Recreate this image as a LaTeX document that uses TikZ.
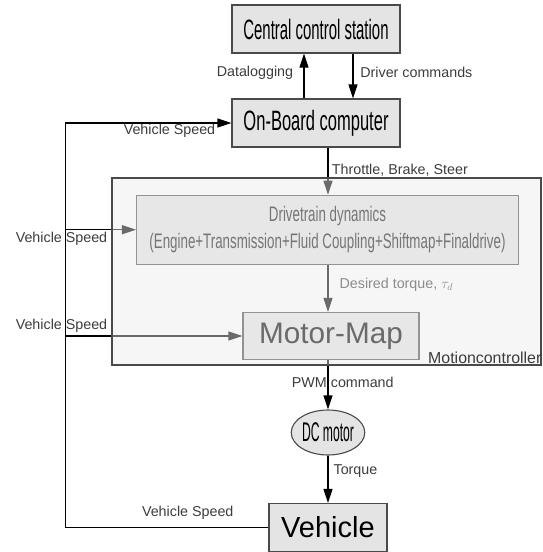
\documentclass[tikz,border=0pt]{standalone}
\usepackage{fontspec}
\setmainfont{Liberation Sans}
\usetikzlibrary{arrows.meta}
\usetikzlibrary{shapes.geometric}
\definecolor{boxgray}{HTML}{E4E4E4}
\definecolor{edgegray}{HTML}{4A4A4A}
\definecolor{labelgray}{HTML}{3C3C3C}
\definecolor{mcgray}{HTML}{ECECEC}
\definecolor{dttext}{HTML}{141414}
\newcommand{\squeeze}[2]{\scalebox{#1}[1]{#2}}

\begin{document}
\begin{tikzpicture}[x=1pt, y=-1pt,
  block/.style={draw=edgegray, fill=boxgray, line width=1.1pt, inner sep=0pt,
    minimum width=168pt, minimum height=48pt, font=\fontsize{28}{30}\selectfont},
  inblock/.style={draw=edgegray, fill=boxgray, line width=1.1pt, inner sep=0pt},
  sig/.style={-{Triangle[length=14pt, width=9pt]}, line width=1.1pt},
  lbl/.style={text=labelgray, font=\fontsize{14.3}{17}\selectfont}]
\useasboundingbox (0,0) rectangle (543,552);

\node[block] (ccs) at (316,29) {\squeeze{0.533}{Central control station}};
\node[block] (obc) at (316,123) {\squeeze{0.59}{On-Board computer}};
\node[inblock, minimum width=382pt, minimum height=69pt, text=dttext, align=center,
  font=\fontsize{21}{27}\selectfont] (dtd) at (327.5,229.7)
  {\squeeze{0.635}{Drivetrain dynamics}\\\squeeze{0.635}{(Engine+Transmission+Fluid Coupling+Shiftmap+Finaldrive)}};
\node[inblock, minimum width=176pt, minimum height=47pt,
  font=\fontsize{29.7}{32}\selectfont] (mmap) at (331,336) {Motor-Map};
\node[ellipse, inblock, minimum width=72pt, minimum height=45pt,
  font=\fontsize{27}{29}\selectfont] (dcm) at (328,432.5) {\squeeze{0.45}{DC motor}};
\node[block, minimum width=118pt, font=\fontsize{29}{32}\selectfont] (veh) at (328,527.5) {Vehicle};

\coordinate (dl) at (304,0);
\coordinate (dc) at (353,0);
\coordinate (ax) at (328,0);
\coordinate (fb) at (65.7,0);
\coordinate (dtin) at (dtd.west -| fb);
\coordinate (mmin) at (mmap.west -| fb);

\draw[sig] (obc.north -| dl) -- node[lbl, pos=0.57, left=7pt] (dltxt) {Datalogging} (ccs.south -| dl);
\draw[sig] (ccs.south -| dc) -- node[lbl, pos=0.41, right=3.5pt] (dctxt) {Driver commands} (obc.north -| dc);
\draw[sig] (obc.south -| ax) -- node[lbl, pos=0.49, right] (tbs) {Throttle, Brake, Steer} (dtd.north -| ax);
\draw[sig] (dtd.south -| ax) -- node[lbl, pos=0.43, right=7.7pt] (tqd) {Desired torque, $\tau_d$} (mmap.north -| ax);
\draw[sig] (mmap.south -| ax) -- node[lbl, pos=0.445, xshift=14.8pt] (pwm) {PWM command} (dcm.north);
\draw[sig] (dcm.south) -- node[lbl, pos=0.325, right=1.7pt] (trq) {Torque} (veh.north);

\draw[sig] (veh.west) -- (veh.west -| fb) |- (obc.west);
\draw[sig] (dtin) -- (dtd.west);
\draw[sig] (mmin) -- (mmap.west);

\node[lbl, anchor=east] (vs1) at ([xshift=-12.7pt, yshift=-8pt]obc.west) {Vehicle Speed};
\node[lbl] (vs2) at ([xshift=-4.2pt, yshift=-9.3pt]dtin) {Vehicle Speed};
\node[lbl] (vs3) at ([xshift=-4.2pt, yshift=10pt]mmin) {Vehicle Speed};
\node[lbl] (vs4) at ([xshift=-80.7pt, yshift=15.2pt]veh.west) {Vehicle Speed};

\node[draw=edgegray, line width=1.1pt, fill=mcgray, fill opacity=0.45,
  minimum width=429pt, minimum height=187pt] (mc) at (326.5,271.5) {};
\node[lbl, anchor=base east, inner sep=0pt, font=\fontsize{15.9}{18}\selectfont]
  (mctxt) at ([yshift=2.5pt]mc.south east) {Motioncontroller};
\end{tikzpicture}
\end{document}
